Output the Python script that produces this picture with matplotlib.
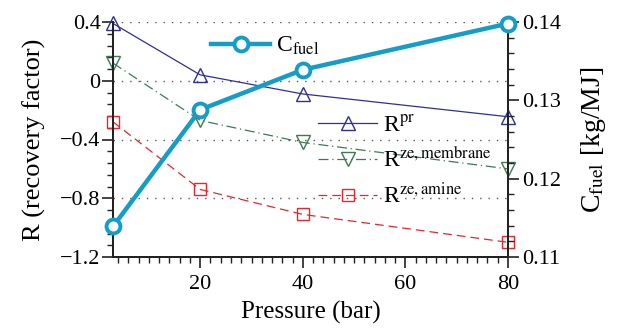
import matplotlib
matplotlib.use("Agg")
import matplotlib.pyplot as plt
from matplotlib.ticker import MultipleLocator

plt.rcParams['font.family'] = ['Liberation Serif', 'DejaVu Serif']
plt.rcParams['mathtext.fontset'] = 'stix'

pressure = [3, 20, 40, 80]
r_pr = [0.39, 0.04, -0.09, -0.245]
r_membrane = [0.12, -0.27, -0.42, -0.60]
r_amine = [-0.28, -0.74, -0.91, -1.10]
c_fuel = [0.1139, 0.1288, 0.1339, 0.1398]

x_ticks = [20, 40, 60, 80]
left_ticks = [0.4, 0, -0.4, -0.8, -1.2]
left_ticklabels = ['0.4', '0', '\u22120.4', '\u22120.8', '\u22121.2']
right_ticks = [0.11, 0.12, 0.13, 0.14]
right_ticklabels = ['0.11', '0.12', '0.13', '0.14']

fig = plt.figure(figsize=(6.22, 3.28), dpi=100)
ax = fig.add_axes([113/622, 1-257/328, (508-113)/622, (257-22)/328])
ax2 = ax.twinx()

blue = '#2e2e9e'
green = '#3d7a52'
red = '#e8252d'
cyan = '#149ec6'

l1, = ax.plot(pressure, r_pr, color=blue, lw=0.9, marker='^', ms=10, mfc='none', mec=blue, mew=1.0, clip_on=False, zorder=3)
l2, = ax.plot(pressure, r_membrane, color=green, lw=0.9, ls=(0, (8, 3, 1, 3)), marker='v', ms=10, mfc='none', mec=green, mew=1.0, clip_on=False, zorder=3)
l3, = ax.plot(pressure, r_amine, color=red, lw=0.9, ls=(0, (7, 4)), marker='s', ms=8.5, mfc='none', mec=red, mew=1.0, clip_on=False, zorder=3)
l4, = ax2.plot(pressure, c_fuel, color=cyan, lw=3.2, marker='o', ms=10, mfc='white', mec=cyan, mew=2.8, clip_on=False, zorder=3)

ax.set_xlim(3, 80)
ax.set_ylim(-1.2, 0.4)
ax2.set_ylim(0.11, 0.14)

ax.set_xticks(x_ticks)
ax.xaxis.set_minor_locator(MultipleLocator(2))
ax.set_yticks(left_ticks)
ax.set_yticklabels(left_ticklabels)
ax.yaxis.set_minor_locator(MultipleLocator(0.08))
ax2.set_yticks(right_ticks)
ax2.set_yticklabels(right_ticklabels)
ax2.yaxis.set_minor_locator(MultipleLocator(0.002))

for a in (ax, ax2):
    a.tick_params(which='major', direction='out', length=8, width=1.2, labelsize=16, color='#222222')
    a.tick_params(which='minor', direction='out', length=4.5, width=1.0, color='#222222')
    a.spines['top'].set_visible(False)
    for s in a.spines.values():
        s.set_linewidth(1.4)
        s.set_color('#222222')
ax.tick_params(axis='x', pad=5)
ax.tick_params(axis='y', pad=1)
ax2.tick_params(axis='y', pad=2)

ax.grid(axis='y', which='major', color='#555555', ls=(0, (1, 5)), lw=1.0)
ax.set_axisbelow(True)

ax.set_xlabel('Pressure (bar)', fontsize=18, labelpad=5)
ax.set_ylabel('R (recovery factor)', fontsize=19, labelpad=10)
ax2.set_ylabel('C$_\\mathrm{fuel}$ [kg/MJ]', fontsize=20, labelpad=13)

leg1 = ax2.legend([l4], ['C$_\\mathrm{fuel}$'], loc='center left', bbox_to_anchor=(211/622, 1-46/328),
                  bbox_transform=fig.transFigure, frameon=False, fontsize=17, handlelength=2.5, handletextpad=0.25, borderaxespad=0, borderpad=0)
leg2 = ax2.legend([l1, l2, l3], ['R$^\\mathrm{pr}$', 'R$^\\mathrm{ze,membrane}$', 'R$^\\mathrm{ze,amine}$'],
                  loc='upper left', bbox_to_anchor=(318/622, 1-115/328), bbox_transform=fig.transFigure,
                  frameon=False, fontsize=17, handlelength=2.5, handletextpad=0.25, labelspacing=0.45, borderaxespad=0, borderpad=0)
ax2.add_artist(leg1)

fig.savefig('out.png', dpi=100)
